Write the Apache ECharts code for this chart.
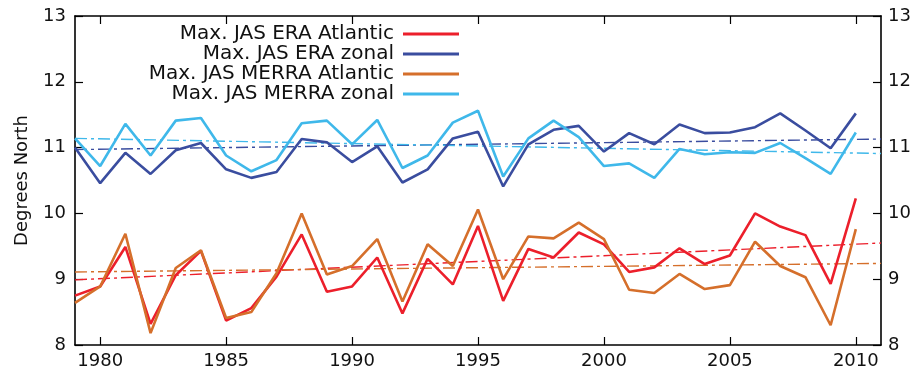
<!DOCTYPE html>
<html>
<head>
<meta charset="utf-8">
<script src="https://cdn.jsdelivr.net/npm/echarts@6/dist/echarts.min.js"></script>
<style>
html,body{margin:0;padding:0;background:#fff;}
#chart{width:914px;height:371px;}
</style>
</head>
<body>
<div id="chart"></div>
<script>
const years = [1979,1980,1981,1982,1983,1984,1985,1986,1987,1988,1989,1990,1991,1992,1993,1994,1995,1996,1997,1998,1999,2000,2001,2002,2003,2004,2005,2006,2007,2008,2009,2010];
const eraAtlantic   = [8.75,8.89,9.49,8.32,9.06,9.43,8.37,8.56,9.04,9.68,8.81,8.89,9.33,8.48,9.31,8.92,9.81,8.67,9.46,9.33,9.71,9.53,9.11,9.18,9.47,9.23,9.36,10.00,9.80,9.67,8.93,10.23];
const eraZonal      = [11.00,10.46,10.92,10.60,10.96,11.07,10.67,10.54,10.63,11.13,11.08,10.78,11.02,10.47,10.67,11.14,11.24,10.41,11.05,11.27,11.33,10.94,11.22,11.05,11.35,11.22,11.23,11.31,11.52,11.26,10.99,11.52];
const merraAtlantic = [8.64,8.89,9.69,8.18,9.17,9.44,8.41,8.50,9.09,10.00,9.07,9.20,9.61,8.66,9.53,9.20,10.06,9.00,9.65,9.62,9.86,9.61,8.84,8.79,9.08,8.85,8.91,9.57,9.20,9.03,8.30,9.76];
const merraZonal    = [11.14,10.72,11.36,10.88,11.41,11.45,10.88,10.64,10.81,11.37,11.41,11.05,11.42,10.69,10.88,11.38,11.56,10.56,11.14,11.41,11.16,10.72,10.76,10.54,10.98,10.90,10.93,10.92,11.07,10.84,10.60,11.23];

const trendYears         = [1979, 2011];
const eraAtlanticTrend   = [8.99, 9.55];
const eraZonalTrend      = [10.97, 11.13];
const merraAtlanticTrend = [9.11, 9.24];
const merraZonalTrend    = [11.14, 10.91];

const xTickValues = [1980,1985,1990,1995,2000,2005,2010];
const seriesNames = ['Max. JAS ERA Atlantic','Max. JAS ERA zonal','Max. JAS MERRA Atlantic','Max. JAS MERRA zonal'];
const colors = ['#ec1f2b','#3a4d9f','#d56f2b','#3fb8ea'];

const pairs = (xs, ys) => xs.map((x, i) => [x, ys[i]]);

const FONT = 'DejaVu Sans';
const dashDot = [12, 4, 3, 4];

const chart = echarts.init(document.getElementById('chart'), null, {renderer: 'canvas'});

const mainData = [eraAtlantic, eraZonal, merraAtlantic, merraZonal];
const trendData = [eraAtlanticTrend, eraZonalTrend, merraAtlanticTrend, merraZonalTrend];

const series = [];
trendData.forEach((t, i) => {
  series.push({
    name: seriesNames[i] + ' trend',
    type: 'line',
    data: pairs(trendYears, t),
    symbol: 'none',
    silent: true,
    lineStyle: {color: colors[i], width: 1.4, type: dashDot},
    z: 2
  });
});
[0, 2, 1, 3].forEach(i => {
  series.push({
    name: seriesNames[i],
    type: 'line',
    data: pairs(years, mainData[i]),
    symbol: 'none',
    color: colors[i],
    lineStyle: {color: colors[i], width: 2.6},
    z: 3
  });
});

const axisLineStyle = {color: '#000', width: 1.6};

chart.setOption({
  animation: false,
  backgroundColor: '#fff',
  textStyle: {fontFamily: FONT},
  grid: {left: 75, right: 33, top: 16, bottom: 26},
  legend: {
    data: seriesNames,
    orient: 'vertical',
    align: 'right',
    right: 455,
    top: 24,
    padding: 0,
    itemGap: 0,
    itemWidth: 56,
    itemHeight: 20,
    icon: 'path://M0,8.6L56,8.6L56,11.4L0,11.4Z',
    textStyle: {fontFamily: FONT, fontSize: 20, color: '#111', lineHeight: 20, padding: [0, 4, 0, 0]}
  },
  xAxis: [
    {
      type: 'value', position: 'bottom', min: 1979, max: 2011,
      axisLine: {show: true, lineStyle: axisLineStyle},
      axisTick: {show: true, inside: true, length: 8, customValues: xTickValues, lineStyle: {color: '#000', width: 1.2}},
      axisLabel: {customValues: xTickValues, formatter: v => String(v), fontFamily: FONT, fontSize: 18, color: '#111', margin: 7},
      splitLine: {show: false}
    },
    {
      type: 'value', position: 'top', min: 1979, max: 2011,
      axisLine: {show: true, lineStyle: axisLineStyle},
      axisTick: {show: true, inside: true, length: 8, customValues: xTickValues, lineStyle: {color: '#000', width: 1.2}},
      axisLabel: {show: false},
      splitLine: {show: false}
    }
  ],
  yAxis: [
    {
      type: 'value', position: 'left', min: 8, max: 13, interval: 1,
      name: 'Degrees North', nameLocation: 'middle', nameGap: 44,
      nameTextStyle: {fontFamily: FONT, fontSize: 18, color: '#111'},
      axisLine: {show: true, lineStyle: axisLineStyle},
      axisTick: {show: true, inside: true, length: 8, lineStyle: {color: '#000', width: 1.2}},
      axisLabel: {fontFamily: FONT, fontSize: 18, color: '#111', margin: 9},
      splitLine: {show: false}
    },
    {
      type: 'value', position: 'right', min: 8, max: 13, interval: 1,
      axisLine: {show: true, lineStyle: axisLineStyle},
      axisTick: {show: true, inside: true, length: 8, lineStyle: {color: '#000', width: 1.2}},
      axisLabel: {fontFamily: FONT, fontSize: 18, color: '#111', margin: 7},
      splitLine: {show: false}
    }
  ],
  series: series
});
</script>
</body>
</html>
